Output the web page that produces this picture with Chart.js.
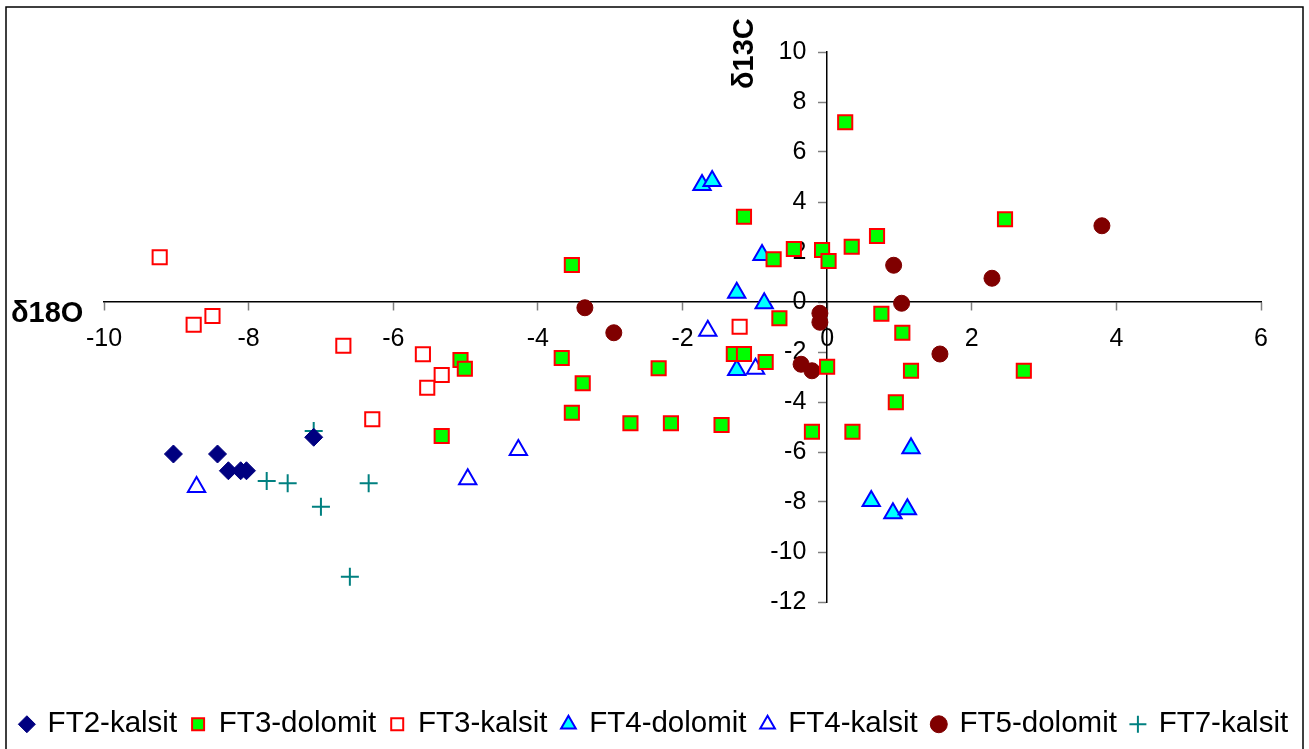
<!DOCTYPE html>
<html>
<head>
  <meta charset="utf-8">
  <title>δ18O / δ13C</title>
  <script src="https://cdn.jsdelivr.net/npm/chart.js@4.4.0/dist/chart.umd.min.js"></script>
  <style>
    html, body { margin: 0; padding: 0; background: #fff; }
    canvas { display: block; }
  </style>
</head>
<body>
  <canvas id="myChart" width="1309" height="749"></canvas>
  <script>
    // axis titles
    var xTitle = 'δ18O';
    var yTitle = 'δ13C';

    // series names (legend order)
    var seriesNames = ['FT2-kalsit', 'FT3-dolomit', 'FT3-kalsit', 'FT4-dolomit', 'FT4-kalsit', 'FT5-dolomit', 'FT7-kalsit'];

    // values (x = δ18O, y = δ13C)
    var ft2kX = [-9.04, -8.43, -8.28, -8.11, -8.03, -7.10];
    var ft2kY = [-6.08, -6.08, -6.75, -6.75, -6.75, -5.41];

    var ft3dX = [-5.07, -5.01, -5.33, -3.53, -3.67, -3.38, -3.53, -2.72, -2.16, -1.46, -2.33, -1.15, -1.29, -1.15, -0.85, -0.66,
                 -0.74, -0.46, -0.07, 0.02, 0.34, 0.00, -0.21, 0.35, 0.25, 0.69, 2.46, 0.75, 1.04, 1.16, 2.72, 0.95];
    var ft3dY = [-2.32, -2.67, -5.36, 1.48, -2.24, -3.25, -4.43, -4.85, -4.85, -4.92, -2.65, 3.41, -2.08, -2.08, -2.40, -0.65,
                 1.71, 2.12, 2.08, 1.64, 2.21, -2.59, -5.19, -5.19, 7.19, 2.64, 3.31, -0.47, -1.23, -2.75, -2.75, -4.01];

    var ft3kX = [-9.23, -8.76, -8.50, -6.69, -5.59, -5.33, -5.53, -6.29, -1.21];
    var ft3kY = [1.79, -0.91, -0.56, -1.75, -2.09, -2.92, -3.43, -4.69, -0.99];

    var ft4dX = [-1.73, -1.59, -0.90, -1.25, -0.87, -1.25, 1.16, 0.61, 0.91, 1.11];
    var ft4dY = [4.68, 4.84, 1.88, 0.37, -0.05, -2.72, -5.85, -7.96, -8.45, -8.29];

    var ft4kX = [-8.72, -4.97, -4.27, -1.65, -0.99];
    var ft4kY = [-7.40, -7.09, -5.92, -1.15, -2.67];

    var ft5dX = [-3.35, -2.95, -0.10, -0.10, -0.36, -0.21, 0.92, 1.03, 2.28, 3.80, 1.56];
    var ft5dY = [-0.23, -1.23, -0.45, -0.81, -2.49, -2.75, 1.47, -0.05, 0.95, 3.05, -2.08];

    var ft7kX = [-7.10, -7.75, -7.46, -7.00, -6.34, -6.60];
    var ft7kY = [-5.16, -7.16, -7.25, -8.19, -7.25, -10.99];

    // axis ranges and ticks
    var xMin = -10, xMax = 6, xStep = 2;
    var yMin = -12, yMax = 10, yStep = 2;

    var fontFamily = '"Liberation Sans", Arial, sans-serif';

    function toPoints(xs, ys) {
      var pts = [];
      for (var i = 0; i < xs.length; i++) {
        pts.push({ x: xs[i], y: ys[i] });
      }
      return pts;
    }

    var datasets = [
      { label: seriesNames[0], data: toPoints(ft2kX, ft2kY), pointStyle: 'rectRot', pointRadius: 9,
        backgroundColor: '#000080', borderColor: '#000080', borderWidth: 1 },
      { label: seriesNames[1], data: toPoints(ft3dX, ft3dY), pointStyle: 'rect', pointRadius: 10,
        backgroundColor: '#00ff00', borderColor: '#ff0000', borderWidth: 2 },
      { label: seriesNames[2], data: toPoints(ft3kX, ft3kY), pointStyle: 'rect', pointRadius: 10,
        backgroundColor: '#ffffff', borderColor: '#ff0000', borderWidth: 2 },
      { label: seriesNames[3], data: toPoints(ft4dX, ft4dY), pointStyle: 'triangle', pointRadius: 10,
        backgroundColor: '#00ffff', borderColor: '#0000ff', borderWidth: 2 },
      { label: seriesNames[4], data: toPoints(ft4kX, ft4kY), pointStyle: 'triangle', pointRadius: 10,
        backgroundColor: '#ffffff', borderColor: '#0000ff', borderWidth: 2 },
      { label: seriesNames[5], data: toPoints(ft5dX, ft5dY), pointStyle: 'circle', pointRadius: 8,
        backgroundColor: '#800000', borderColor: '#800000', borderWidth: 1 },
      { label: seriesNames[6], data: toPoints(ft7kX, ft7kY), pointStyle: 'cross', pointRadius: 9,
        backgroundColor: '#008080', borderColor: '#008080', borderWidth: 2 }
    ];

    // outer frame + the two bold axis titles
    var framePlugin = {
      id: 'framePlugin',
      beforeDraw: function(chart) {
        var ctx = chart.ctx;
        ctx.save();
        ctx.fillStyle = '#ffffff';
        ctx.fillRect(0, 0, chart.width, chart.height);
        ctx.strokeStyle = '#000000';
        ctx.lineWidth = 1.5;
        ctx.strokeRect(6, 7, 1297, 800);
        ctx.restore();
      },
      afterDraw: function(chart) {
        var ctx = chart.ctx;
        var xs = chart.scales.x, ys = chart.scales.y;
        var x0 = xs.getPixelForValue(0), y0 = ys.getPixelForValue(0);
        ctx.save();
        ctx.font = 'bold 29px ' + fontFamily;
        ctx.fillStyle = '#000000';
        ctx.textAlign = 'left';
        ctx.textBaseline = 'alphabetic';
        ctx.fillText(xTitle, xs.left - 93, y0 + 20);
        ctx.translate(x0 - 74, ys.top + 37);
        ctx.rotate(-Math.PI / 2);
        ctx.fillText(yTitle, 0, 0);
        ctx.restore();
      }
    };

    var tickFont = { family: fontFamily, size: 25 };

    var ctx = document.getElementById('myChart').getContext('2d');
    var myChart = new Chart(ctx, {
      type: 'scatter',
      data: { datasets: datasets },
      plugins: [framePlugin],
      options: {
        responsive: false,
        animation: false,
        layout: { padding: { top: 52, left: 0, right: 0, bottom: 0 } },
        scales: {
          x: {
            type: 'linear',
            position: { y: 0 },
            min: xMin, max: xMax,
            ticks: { stepSize: xStep, font: tickFont, color: '#000', padding: 14, maxRotation: 0 },
            grid: { drawOnChartArea: false, drawTicks: true, tickLength: 8, tickColor: '#808080', tickWidth: 1.5 },
            border: { color: '#000', width: 1.5 }
          },
          y: {
            type: 'linear',
            position: { x: 0 },
            min: yMin, max: yMax,
            ticks: {
              stepSize: yStep, font: tickFont, color: '#000',
              // a centred y axis gets no label padding, so keep the labels off the tick marks
              callback: function(value) { return value + '   '; }
            },
            grid: { drawOnChartArea: false, drawTicks: true, tickLength: 8, tickColor: '#808080', tickWidth: 1.5 },
            border: { color: '#000', width: 1.5 }
          },
          // empty spacers so the plot area sits where it does in the picture
          padLeft: { type: 'linear', position: 'left', display: false, afterFit: function(s) { s.width = 104; } },
          padRight: { type: 'linear', position: 'right', display: false, afterFit: function(s) { s.width = 48; } },
          padBottom: { type: 'linear', position: 'bottom', display: false, afterFit: function(s) { s.height = 92.5; } }
        },
        plugins: {
          tooltip: { enabled: false },
          legend: {
            position: 'bottom',
            align: 'center',
            labels: {
              usePointStyle: true,
              boxWidth: 12,
              boxHeight: 12,
              padding: 15,
              color: '#000',
              font: { family: fontFamily, size: 29.5 }
            }
          }
        }
      }
    });
  </script>
</body>
</html>
